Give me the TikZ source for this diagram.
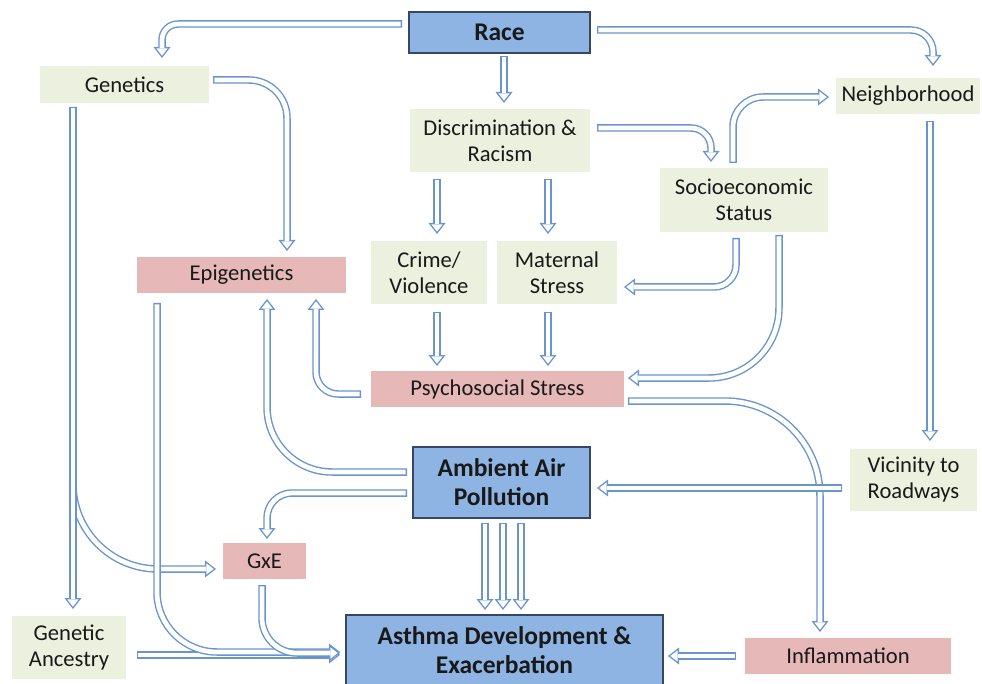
\documentclass[tikz,border=0pt]{standalone}
\usepackage{fontspec}
\setmainfont{Carlito}
\usetikzlibrary{arrows.meta}
\definecolor{arrowblue}{RGB}{105,148,205}
\definecolor{gfill}{RGB}{235,241,222}
\definecolor{pfill}{RGB}{230,185,184}
\definecolor{bfill}{RGB}{142,180,227}
\definecolor{bdraw}{RGB}{55,70,100}
\tikzset{
  gbox/.style={fill=gfill, inner sep=0pt, outer sep=0pt, align=center, font=\fontsize{22.6}{26}\selectfont, text=black!90},
  pbox/.style={gbox, fill=pfill},
  bbox/.style={fill=bfill, draw=bdraw, line width=1.3pt, inner sep=0pt, outer sep=0pt, align=center, font=\fontsize{25.5}{29}\selectfont\bfseries, text=black!90},
  sz/.style 2 args={minimum width=#1pt, minimum height=#2pt},
  arrout/.style={draw=arrowblue, line width=7.5pt, -{Triangle[length=11pt 0 0, width=17pt 0 0, line width=0pt 0 0]}},
  arrin/.style={draw=white, line width=4.7pt, shorten >=2.29pt, shorten <=1.4pt, -{Triangle[length=7.31pt 0 0, width=11.3pt 0 0, line width=0pt 0 0]}},
}
\newcommand\harrow[2][]{\draw[arrout,#1] #2; \draw[arrin,#1] #2;}
\begin{document}
\begin{tikzpicture}[x=1pt,y=-1pt]
\path[use as bounding box] (0,0) rectangle (982,684);
\clip (0,0) rectangle (982,684);
\fill[white] (0,0) rectangle (982,684);

% nodes
\node[bbox, sz={181}{41}] (race) at (499.5,32.5) {Race};
\node[gbox, sz={169}{37}] (gen) at (124.5,84.5) {Genetics};
\node[gbox, sz={180}{63}] (disc) at (500,140.5) {Discrimination \&\\Racism};
\node[gbox, sz={144}{36}] (nb) at (908,96) {Neighborhood};
\node[gbox, sz={168}{64}] (ses) at (744,200) {Socioeconomic\\Status};
\node[pbox, sz={209}{36}] (epi) at (241.5,275) {Epigenetics};
\node[gbox, sz={116}{63}] (crime) at (429,272.5) {Crime/\\Violence};
\node[gbox, sz={120}{63}] (mat) at (557,272.5) {Maternal\\Stress};
\node[pbox, sz={253}{36}] (psy) at (497.5,389) {Psychosocial Stress};
\node[bbox, sz={177}{71}] (amb) at (501.5,482.5) {Ambient Air\\Pollution};
\node[gbox, sz={127}{62}] (vic) at (913.5,480) {Vicinity to\\Roadways};
\node[pbox, sz={83}{36}] (gxe) at (264.5,561) {GxE};
\node[gbox, sz={114}{63}] (anc) at (69,647.5) {Genetic\\Ancestry};
\node[bbox, sz={317}{71}] (ast) at (504.5,650.5) {Asthma Development \&\\Exacerbation};
\node[pbox, sz={206}{36}] (inf) at (848,656) {Inflammation};

% connectors
\harrow[rounded corners=16pt]{([xshift=-7pt,yshift=8.5pt]race.west) -| ([xshift=37.5pt,yshift=8pt]gen.north)}
\harrow[rounded corners=22pt]{([xshift=7pt,yshift=2.5pt]race.east) -| ([xshift=25pt,yshift=12pt]nb.north)}
\harrow{([xshift=4.5pt,yshift=-3pt]race.south) -- ([xshift=4pt,yshift=6pt]disc.north)}
\harrow[rounded corners=38pt]{([xshift=4pt,yshift=4.5pt]gen.east) -| ([xshift=45.5pt,yshift=6pt]epi.north)}
\harrow[rounded corners=85pt]{([xshift=-51.5pt,yshift=-4pt]gen.south) |- ([xshift=-7pt,yshift=-8pt]gxe.west)}
\harrow{([xshift=-51.5pt,yshift=-4pt]gen.south) -- ([xshift=4pt,yshift=7pt]anc.north)}
\harrow[rounded corners=20pt]{([xshift=7pt,yshift=12.5pt]disc.east) -| ([xshift=-33pt,yshift=6pt]ses.north)}
\harrow{([xshift=-63pt,yshift=-7pt]disc.south) -- ([xshift=8pt,yshift=7pt]crime.north)}
\harrow{([xshift=48pt,yshift=-7pt]disc.south) -- ([xshift=-9pt,yshift=7pt]mat.north)}
\harrow[rounded corners=30pt]{([xshift=-11pt,yshift=5pt]ses.north) |- ([xshift=-7pt,yshift=-1pt]nb.west)}
\harrow{([xshift=22pt,yshift=-7pt]nb.south) -- ([xshift=16.5pt,yshift=8pt]vic.north)}
\harrow[rounded corners=22pt]{([xshift=-8pt,yshift=-6pt]ses.south) |- ([xshift=7pt,yshift=-14.5pt]mat.east)}
\harrow[rounded corners=70pt]{([xshift=35pt,yshift=-3pt]ses.south) |- ([xshift=4pt,yshift=11pt]psy.east)}
\harrow{([xshift=8pt,yshift=-8pt]crime.south) -- ([xshift=-60.5pt,yshift=5pt]psy.north)}
\harrow{([xshift=-9pt,yshift=-8pt]mat.south) -- ([xshift=50.5pt,yshift=5pt]psy.north)}
\harrow[rounded corners=22pt]{([xshift=-10pt,yshift=-5pt]psy.west) -| ([xshift=74.5pt,yshift=-6pt]epi.south)}
\harrow[rounded corners=65pt]{([xshift=-6pt,yshift=10.5pt]amb.west) -| ([xshift=25.5pt,yshift=-6pt]epi.south)}
\harrow[rounded corners=95pt]{([xshift=4pt,yshift=-12pt]psy.east) -| ([xshift=-28pt,yshift=6pt]inf.north)}
\harrow{([xshift=-8pt,yshift=-8pt]vic.west) -- ([xshift=7pt,yshift=-5.5pt]amb.east)}
\harrow[rounded corners=25pt]{([xshift=-6pt,yshift=-10.5pt]amb.west) -| ([xshift=2.5pt,yshift=4pt]gxe.north)}
\harrow{([xshift=-16.5pt,yshift=-5pt]amb.south) -- ([xshift=-19.5pt,yshift=5pt]ast.north)}
\harrow{([xshift=1.5pt,yshift=-5pt]amb.south) -- ([xshift=-1.5pt,yshift=5pt]ast.north)}
\harrow{([xshift=19.5pt,yshift=-5pt]amb.south) -- ([xshift=16.5pt,yshift=5pt]ast.north)}
\harrow{([xshift=11pt,yshift=-7.5pt]anc.east) -- ([xshift=-6pt,yshift=-4.5pt]ast.west)}
\harrow[rounded corners=60pt]{([xshift=-84.5pt,yshift=-10pt]epi.south) |- ([xshift=-6pt,yshift=-1.5pt]ast.west)}
\harrow[rounded corners=35pt]{([xshift=-2.5pt,yshift=-6pt]gxe.south) |- ([xshift=-6pt,yshift=-2.5pt]ast.west)}
\harrow{([xshift=-9pt]inf.west) -- ([xshift=5pt,yshift=-5.5pt]ast.east)}
\end{tikzpicture}
\end{document}
